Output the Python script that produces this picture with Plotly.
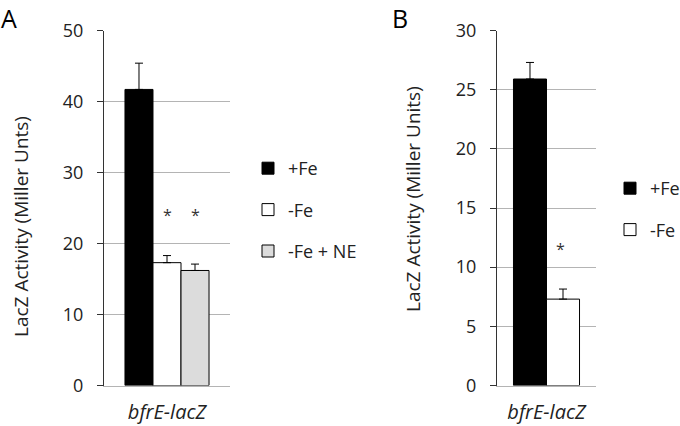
import plotly.graph_objects as go

W, H = 680, 426

category = ["bfrE-lacZ"]
series_a = ["+Fe", "-Fe", "-Fe + NE"]
values_a = [41.7, 17.3, 16.2]
errors_a = [3.7, 1.0, 0.9]
colors_a = ["#000000", "#ffffff", "#dcdcdc"]
sig_a = ["-Fe", "-Fe + NE"]
sig_y_a = [24.0, 24.0]

series_b = ["+Fe", "-Fe"]
values_b = [25.9, 7.3]
errors_b = [1.4, 0.85]
colors_b = ["#000000", "#ffffff"]
sig_b = ["-Fe"]
sig_y_b = [11.5]

FONT = "Open Sans"
TXT = "#222222"

fig = go.Figure()

for i, (name, v, e, c) in enumerate(zip(series_a, values_a, errors_a, colors_a)):
    fig.add_trace(go.Bar(
        x=category, y=[v], name=name, marker=dict(color=c, line=dict(color="#000000", width=1)),
        error_y=dict(type="data", array=[e], arrayminus=[0], symmetric=False, color="#000000", thickness=1, width=4),
        xaxis="x", yaxis="y", legend="legend", legendgroup="a" + str(i), offsetgroup=str(i),
    ))
for i, (name, v, e, c) in enumerate(zip(series_b, values_b, errors_b, colors_b)):
    fig.add_trace(go.Bar(
        x=category, y=[v], name=name, marker=dict(color=c, line=dict(color="#000000", width=1)),
        error_y=dict(type="data", array=[e], arrayminus=[0], symmetric=False, color="#000000", thickness=1, width=4),
        xaxis="x2", yaxis="y2", legend="legend2", legendgroup="b" + str(i), offsetgroup=str(i),
    ))

def px(x):
    return x / W

def py(y):
    return 1 - y / H

ydom = [py(385.5), py(30.5)]

axis_common = dict(
    showgrid=True, gridcolor="#b4b4b4", gridwidth=1, zeroline=False, automargin=False,
    tickfont=dict(family=FONT, size=18, color=TXT),
)
xfont = dict(family=FONT, size=20, color=TXT, style="italic")

fig.update_layout(
    width=W, height=H, margin=dict(l=0, r=0, t=0, b=0, autoexpand=False),
    paper_bgcolor="white", plot_bgcolor="white",
    font=dict(family=FONT, color=TXT),
    barmode="group", bargap=0.333,
    xaxis=dict(domain=[px(104), px(230)], showline=True, linecolor="#b4b4b4", linewidth=1,
               ticks="", showgrid=False, tickfont=xfont, ticklabelstandoff=8,
               automargin=False, anchor="y"),
    yaxis=dict(domain=ydom, range=[0, 50], dtick=10, showline=True, linecolor="#333333", linewidth=1,
               ticks="outside", ticklen=6, tickcolor="#333333", ticklabelstandoff=10,
               anchor="x", **axis_common),
    xaxis2=dict(domain=[px(497), px(596)], showline=True, linecolor="#b4b4b4", linewidth=1,
                ticks="", showgrid=False, tickfont=xfont, ticklabelstandoff=8,
                automargin=False, anchor="y2"),
    yaxis2=dict(domain=ydom, range=[0, 30], dtick=5, showline=True, linecolor="#333333", linewidth=1,
                ticks="outside", ticklen=6, tickcolor="#333333", ticklabelstandoff=10,
                anchor="x2", **axis_common),
    legend=dict(x=px(248), y=py(150), xanchor="left", yanchor="top", tracegroupgap=15,
                font=dict(family=FONT, size=18, color=TXT), bgcolor="rgba(0,0,0,0)"),
    legend2=dict(x=px(610), y=py(170), xanchor="left", yanchor="top", tracegroupgap=15,
                 font=dict(family=FONT, size=18, color=TXT), bgcolor="rgba(0,0,0,0)"),
)

annotations = []
shifts_a = {"+Fe": -28, "-Fe": 0, "-Fe + NE": 28}
for name, yv in zip(sig_a, sig_y_a):
    annotations.append(dict(x=category[0], y=yv, xref="x", yref="y", text="*", showarrow=False,
                            xshift=shifts_a[name], font=dict(family=FONT, size=16, color="#333333")))
shifts_b = {"+Fe": -14, "-Fe": 14}
for name, yv in zip(sig_b, sig_y_b):
    annotations.append(dict(x=category[0], y=yv, xref="x2", yref="y2", text="*", showarrow=False,
                            xshift=shifts_b[name], font=dict(family=FONT, size=16, color="#333333")))
# panel labels
annotations.append(dict(x=0, y=1, xref="paper", yref="paper", xanchor="left", yanchor="top",
                        text="A", showarrow=False, borderpad=0, font=dict(family=FONT, size=25, color="#000000")))
annotations.append(dict(x=px(391), y=1, xref="paper", yref="paper", xanchor="left", yanchor="top",
                        text="B", showarrow=False, borderpad=0, font=dict(family=FONT, size=25, color="#000000")))
# y-axis titles
annotations.append(dict(x=px(21), y=py(227), xref="paper", yref="paper", xanchor="center", yanchor="middle",
                        text="LacZ Activity (Miller Unts)", textangle=-90, showarrow=False,
                        font=dict(family=FONT, size=19, color=TXT)))
annotations.append(dict(x=px(413), y=py(199), xref="paper", yref="paper", xanchor="center", yanchor="middle",
                        text="LacZ Activity (Miller Units)", textangle=-90, showarrow=False,
                        font=dict(family=FONT, size=19, color=TXT)))
fig.update_layout(annotations=annotations)

fig.write_html("out.html", config={"displayModeBar": False},
               post_script="document.body.style.margin='0';")
